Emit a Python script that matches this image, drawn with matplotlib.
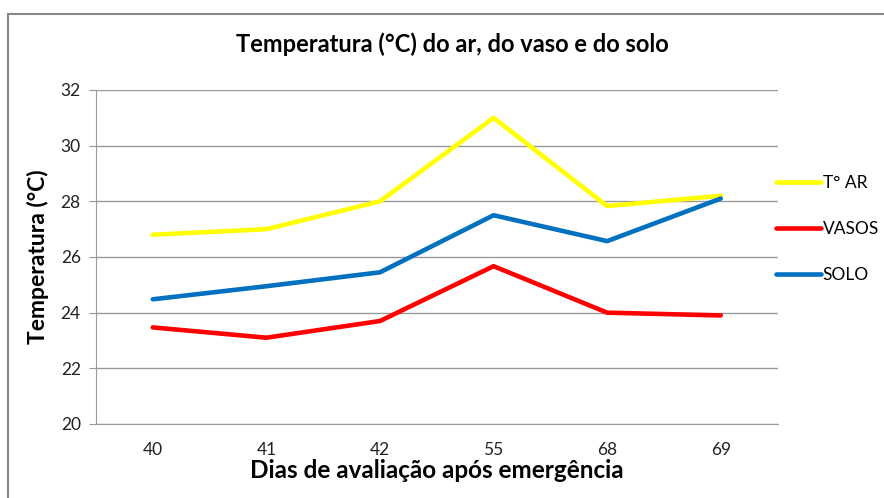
import matplotlib.pyplot as plt
from matplotlib.patches import Rectangle

plt.rcParams['font.family'] = ['Lato', 'DejaVu Sans']

dias = ["40", "41", "42", "55", "68", "69"]
t_ar = [26.8, 27.0, 28.0, 31.0, 27.83, 28.2]
vasos = [23.47, 23.1, 23.7, 25.67, 24.0, 23.9]
solo = [24.48, 24.95, 25.45, 27.5, 26.57, 28.1]

fig = plt.figure(figsize=(8.84, 4.98), dpi=100)
ax = fig.add_axes([0.1086, 0.1486, 0.771, 0.6707])

x = range(len(dias))
ax.plot(x, t_ar, color="#ffff00", lw=3.3, label="T° AR", solid_capstyle="round")
ax.plot(x, vasos, color="#ff0000", lw=3.3, label="VASOS", solid_capstyle="round")
ax.plot(x, solo, color="#0070c0", lw=3.3, label="SOLO", solid_capstyle="round")

ax.set_xlim(-0.5, 5.5)
ax.set_ylim(20, 32)
ax.set_yticks(range(20, 33, 2))
ax.set_xticks(list(x))
ax.set_xticklabels(dias)
ax.grid(axis="y", color="#999999", lw=1)
ax.set_axisbelow(True)
for s in ["top", "right"]:
    ax.spines[s].set_visible(False)
for s in ["left", "bottom"]:
    ax.spines[s].set_color("#999999")
ax.tick_params(axis="y", colors="#999999", length=5, labelcolor="#222222", labelsize=12.5, pad=6)
ax.tick_params(axis="x", length=0, labelcolor="#222222", labelsize=12.5, pad=13)

ax.set_xlabel("Dias de avaliação após emergência", fontsize=17.5, fontweight="bold", labelpad=1)
ax.set_ylabel("Temperatura (°C)", fontsize=16.5, fontweight="bold", labelpad=8)
fig.text(0.512, 0.912, "Temperatura (°C) do ar, do vaso e do solo", ha="center", va="center",
         fontsize=17, fontweight="bold")

ax.legend(loc="upper left", bbox_to_anchor=(0.9977, 0.745), frameon=False, fontsize=12.5,
          handlelength=2.6, handletextpad=0.1, labelspacing=1.72, borderaxespad=0, borderpad=0)

fig.patches.append(Rectangle((8 / 884, -0.1), 2, 1.1 - 14 / 498, transform=fig.transFigure,
                             fill=False, edgecolor="#888888", lw=1.5))

fig.savefig("out.png", dpi=100)
